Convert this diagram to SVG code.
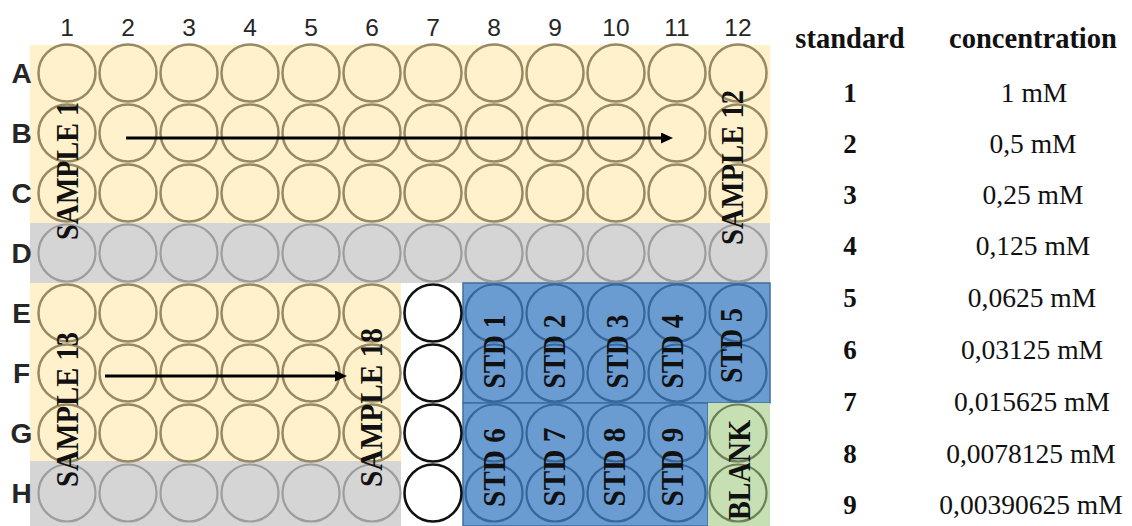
<svg xmlns="http://www.w3.org/2000/svg" width="1132" height="526" viewBox="0 0 1132 526">
<style>
.wy{fill:none;stroke:#978962;stroke-width:2.5}
.wg{fill:none;stroke:#9d9d9d;stroke-width:2.2}
.ww{fill:#fff;stroke:#111;stroke-width:2.6}
.wb{fill:none;stroke:#36679a;stroke-width:2.2}
.wn{fill:none;stroke:#6f7e5a;stroke-width:2.2}
.col{font-family:"Liberation Sans",Arial,sans-serif;font-size:24.5px;fill:#262626;text-anchor:middle}
.row{font-family:"Liberation Sans",Arial,sans-serif;font-size:28px;font-weight:bold;fill:#262626;text-anchor:middle}
.rot{font-family:"Liberation Serif","Times New Roman",serif;font-size:32px;font-weight:bold;fill:#111;text-anchor:middle}
.th{font-family:"Liberation Serif","Times New Roman",serif;font-size:28.5px;font-weight:bold;fill:#111;text-anchor:middle}
.tn{font-family:"Liberation Serif","Times New Roman",serif;font-size:27px;font-weight:bold;fill:#111;text-anchor:middle}
.tv{font-family:"Liberation Serif","Times New Roman",serif;font-size:27.5px;fill:#111;text-anchor:middle}
.arr{stroke:#000;stroke-width:3;fill:none}
</style>
<defs>
<marker id="ah" markerUnits="userSpaceOnUse" markerWidth="12" markerHeight="11" refX="3" refY="5.5" orient="auto">
<path d="M0,0 L12,5.5 L0,11 z" fill="#000"/>
</marker>
</defs>
<g id="plate-background">
<rect x="30" y="45" width="740" height="178" fill="#fff1cb"/>
<rect x="30" y="223" width="740" height="60" fill="#d5d5d5"/>
<rect x="30" y="283" width="371" height="178" fill="#fff1cb"/>
<rect x="30" y="461" width="371" height="65" fill="#d5d5d5"/>
<rect x="401" y="283" width="62" height="243" fill="#ffffff"/>
<rect x="463" y="283" width="307" height="120" fill="#6a9cd2" stroke="#3f6f9f" stroke-width="1.5"/>
<rect x="463" y="403" width="245" height="123" fill="#6a9cd2" stroke="#3f6f9f" stroke-width="1.5"/>
<rect x="708" y="403" width="62" height="123" fill="#c6e0b4"/>
</g>
<g id="column-labels">
<text class="col" x="67" y="36">1</text>
<text class="col" x="128" y="36">2</text>
<text class="col" x="189" y="36">3</text>
<text class="col" x="250" y="36">4</text>
<text class="col" x="311" y="36">5</text>
<text class="col" x="372" y="36">6</text>
<text class="col" x="433" y="36">7</text>
<text class="col" x="494" y="36">8</text>
<text class="col" x="555" y="36">9</text>
<text class="col" x="616" y="36">10</text>
<text class="col" x="677" y="36">11</text>
<text class="col" x="738" y="36">12</text>
</g>
<g id="row-labels">
<text class="row" x="21.5" y="83">A</text>
<text class="row" x="21.5" y="143">B</text>
<text class="row" x="21.5" y="203">C</text>
<text class="row" x="21.5" y="263">D</text>
<text class="row" x="21.5" y="323">E</text>
<text class="row" x="21.5" y="383">F</text>
<text class="row" x="21.5" y="443">G</text>
<text class="row" x="21.5" y="503">H</text>
</g>
<g id="wells">
<g id="row-A" class="wy">
<circle cx="67" cy="73" r="28.5"/><circle cx="128" cy="73" r="28.5"/><circle cx="189" cy="73" r="28.5"/><circle cx="250" cy="73" r="28.5"/><circle cx="311" cy="73" r="28.5"/><circle cx="372" cy="73" r="28.5"/><circle cx="433" cy="73" r="28.5"/><circle cx="494" cy="73" r="28.5"/><circle cx="555" cy="73" r="28.5"/><circle cx="616" cy="73" r="28.5"/><circle cx="677" cy="73" r="28.5"/><circle cx="738" cy="73" r="28.5"/>
</g>
<g id="row-B" class="wy">
<circle cx="67" cy="133" r="28.5"/><circle cx="128" cy="133" r="28.5"/><circle cx="189" cy="133" r="28.5"/><circle cx="250" cy="133" r="28.5"/><circle cx="311" cy="133" r="28.5"/><circle cx="372" cy="133" r="28.5"/><circle cx="433" cy="133" r="28.5"/><circle cx="494" cy="133" r="28.5"/><circle cx="555" cy="133" r="28.5"/><circle cx="616" cy="133" r="28.5"/><circle cx="677" cy="133" r="28.5"/><circle cx="738" cy="133" r="28.5"/>
</g>
<g id="row-C" class="wy">
<circle cx="67" cy="193" r="28.5"/><circle cx="128" cy="193" r="28.5"/><circle cx="189" cy="193" r="28.5"/><circle cx="250" cy="193" r="28.5"/><circle cx="311" cy="193" r="28.5"/><circle cx="372" cy="193" r="28.5"/><circle cx="433" cy="193" r="28.5"/><circle cx="494" cy="193" r="28.5"/><circle cx="555" cy="193" r="28.5"/><circle cx="616" cy="193" r="28.5"/><circle cx="677" cy="193" r="28.5"/><circle cx="738" cy="193" r="28.5"/>
</g>
<g id="row-D" class="wg">
<circle cx="67" cy="253" r="28.5"/><circle cx="128" cy="253" r="28.5"/><circle cx="189" cy="253" r="28.5"/><circle cx="250" cy="253" r="28.5"/><circle cx="311" cy="253" r="28.5"/><circle cx="372" cy="253" r="28.5"/><circle cx="433" cy="253" r="28.5"/><circle cx="494" cy="253" r="28.5"/><circle cx="555" cy="253" r="28.5"/><circle cx="616" cy="253" r="28.5"/><circle cx="677" cy="253" r="28.5"/><circle cx="738" cy="253" r="28.5"/>
</g>
<g id="rows-EFG-samples" class="wy">
<circle cx="67" cy="313" r="28.5"/><circle cx="128" cy="313" r="28.5"/><circle cx="189" cy="313" r="28.5"/><circle cx="250" cy="313" r="28.5"/><circle cx="311" cy="313" r="28.5"/><circle cx="372" cy="313" r="28.5"/>
<circle cx="67" cy="373" r="28.5"/><circle cx="128" cy="373" r="28.5"/><circle cx="189" cy="373" r="28.5"/><circle cx="250" cy="373" r="28.5"/><circle cx="311" cy="373" r="28.5"/><circle cx="372" cy="373" r="28.5"/>
<circle cx="67" cy="433" r="28.5"/><circle cx="128" cy="433" r="28.5"/><circle cx="189" cy="433" r="28.5"/><circle cx="250" cy="433" r="28.5"/><circle cx="311" cy="433" r="28.5"/><circle cx="372" cy="433" r="28.5"/>
</g>
<g id="row-H-gray" class="wg">
<circle cx="67" cy="493" r="28.5"/><circle cx="128" cy="493" r="28.5"/><circle cx="189" cy="493" r="28.5"/><circle cx="250" cy="493" r="28.5"/><circle cx="311" cy="493" r="28.5"/><circle cx="372" cy="493" r="28.5"/>
</g>
<g id="col-7-empty" class="ww">
<circle cx="433" cy="313" r="28.5"/><circle cx="433" cy="373" r="28.5"/><circle cx="433" cy="433" r="28.5"/><circle cx="433" cy="493" r="28.5"/>
</g>
<g id="standards" class="wb">
<circle cx="494" cy="313" r="28.5"/><circle cx="555" cy="313" r="28.5"/><circle cx="616" cy="313" r="28.5"/><circle cx="677" cy="313" r="28.5"/><circle cx="738" cy="313" r="28.5"/>
<circle cx="494" cy="373" r="28.5"/><circle cx="555" cy="373" r="28.5"/><circle cx="616" cy="373" r="28.5"/><circle cx="677" cy="373" r="28.5"/><circle cx="738" cy="373" r="28.5"/>
<circle cx="494" cy="433" r="28.5"/><circle cx="555" cy="433" r="28.5"/><circle cx="616" cy="433" r="28.5"/><circle cx="677" cy="433" r="28.5"/>
<circle cx="494" cy="493" r="28.5"/><circle cx="555" cy="493" r="28.5"/><circle cx="616" cy="493" r="28.5"/><circle cx="677" cy="493" r="28.5"/>
</g>
<g id="blank" class="wn">
<circle cx="738" cy="433" r="28.5"/><circle cx="738" cy="493" r="28.5"/>
</g>
</g>
<g id="connectors">
<line class="arr" x1="126" y1="138" x2="664" y2="138" marker-end="url(#ah)"/>
<line class="arr" x1="105" y1="376" x2="338" y2="376" marker-end="url(#ah)"/>
</g>
<g id="well-labels">
<text class="rot" transform="translate(78,171) rotate(-90)" textLength="138" lengthAdjust="spacingAndGlyphs">SAMPLE 1</text>
<text class="rot" transform="translate(743,167.5) rotate(-90)" textLength="155" lengthAdjust="spacingAndGlyphs">SAMPLE 12</text>
<text class="rot" transform="translate(78,409.5) rotate(-90)" textLength="155" lengthAdjust="spacingAndGlyphs">SAMPLE 13</text>
<text class="rot" transform="translate(382,407.5) rotate(-90)" textLength="159" lengthAdjust="spacingAndGlyphs">SAMPLE 18</text>
<text class="rot" transform="translate(505,351.5) rotate(-90)" textLength="74" lengthAdjust="spacingAndGlyphs">STD 1</text>
<text class="rot" transform="translate(565,351.5) rotate(-90)" textLength="74" lengthAdjust="spacingAndGlyphs">STD 2</text>
<text class="rot" transform="translate(628,351.5) rotate(-90)" textLength="74" lengthAdjust="spacingAndGlyphs">STD 3</text>
<text class="rot" transform="translate(683,351.5) rotate(-90)" textLength="74" lengthAdjust="spacingAndGlyphs">STD 4</text>
<text class="rot" transform="translate(742,345.5) rotate(-90)" textLength="75" lengthAdjust="spacingAndGlyphs">STD 5</text>
<text class="rot" transform="translate(505,467.5) rotate(-90)" textLength="79" lengthAdjust="spacingAndGlyphs">STD 6</text>
<text class="rot" transform="translate(565,467) rotate(-90)" textLength="79" lengthAdjust="spacingAndGlyphs">STD 7</text>
<text class="rot" transform="translate(625,467) rotate(-90)" textLength="79" lengthAdjust="spacingAndGlyphs">STD 8</text>
<text class="rot" transform="translate(683,467) rotate(-90)" textLength="79" lengthAdjust="spacingAndGlyphs">STD 9</text>
<text class="rot" transform="translate(750,470) rotate(-90)" textLength="100" lengthAdjust="spacingAndGlyphs">BLANK</text>
</g>
<g id="concentration-table">
<text class="th" x="850" y="48">standard</text>
<text class="th" x="1033" y="48">concentration</text>
<text class="tn" x="850" y="102">1</text><text class="tv" x="1034" y="102">1 mM</text>
<text class="tn" x="850" y="153">2</text><text class="tv" x="1033" y="153">0,5 mM</text>
<text class="tn" x="850" y="204">3</text><text class="tv" x="1033" y="204">0,25 mM</text>
<text class="tn" x="850" y="255">4</text><text class="tv" x="1033" y="255">0,125 mM</text>
<text class="tn" x="850" y="307">5</text><text class="tv" x="1032" y="307">0,0625 mM</text>
<text class="tn" x="850" y="359">6</text><text class="tv" x="1032" y="359">0,03125 mM</text>
<text class="tn" x="850" y="411">7</text><text class="tv" x="1032" y="411">0,015625 mM</text>
<text class="tn" x="850" y="463">8</text><text class="tv" x="1031" y="463">0,0078125 mM</text>
<text class="tn" x="850" y="514">9</text><text class="tv" x="1031" y="514">0,00390625 mM</text>
</g>
</svg>
